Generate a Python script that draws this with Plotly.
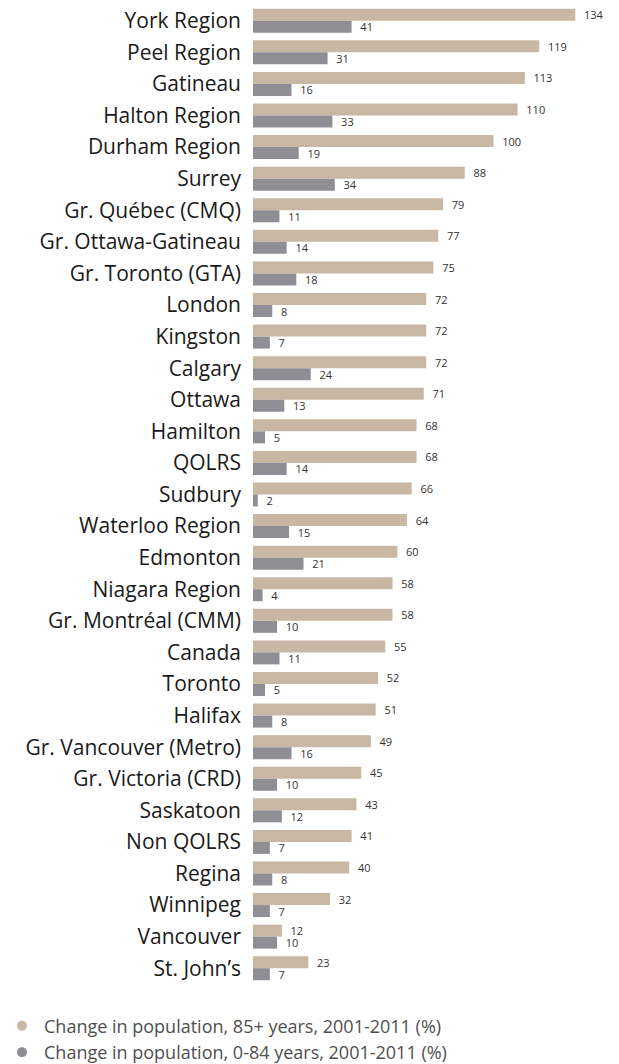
import plotly.graph_objects as go

categories = ["York Region", "Peel Region", "Gatineau", "Halton Region", "Durham Region", "Surrey",
              "Gr. Québec (CMQ)", "Gr. Ottawa-Gatineau", "Gr. Toronto (GTA)", "London", "Kingston",
              "Calgary", "Ottawa", "Hamilton", "QOLRS", "Sudbury", "Waterloo Region", "Edmonton",
              "Niagara Region", "Gr. Montréal (CMM)", "Canada", "Toronto", "Halifax",
              "Gr. Vancouver (Metro)", "Gr. Victoria (CRD)", "Saskatoon", "Non QOLRS", "Regina",
              "Winnipeg", "Vancouver", "St. John’s"]
pop_85_plus = [134, 119, 113, 110, 100, 88, 79, 77, 75, 72, 72, 72, 71, 68, 68, 66, 64, 60, 58, 58,
               55, 52, 51, 49, 45, 43, 41, 40, 32, 12, 23]
pop_0_84 = [41, 31, 16, 33, 19, 34, 11, 14, 18, 8, 7, 24, 13, 5, 14, 2, 15, 21, 4, 10, 11, 5, 8, 16,
            10, 12, 7, 8, 7, 10, 7]
series_names = ["Change in population, 85+ years, 2001-2011 (%)",
                "Change in population, 0-84 years, 2001-2011 (%)"]

BEIGE = "#c8b7a3"
GRAY = "#8f8e94"
FONT = "Open Sans"

fig = go.Figure()
for vals, color in [(pop_85_plus, BEIGE), (pop_0_84, GRAY)]:
    fig.add_trace(go.Bar(
        y=categories, x=vals, orientation="h", marker=dict(color=color, line=dict(width=0)),
        text=[f"  {v}" for v in vals], textposition="outside", cliponaxis=False,
        textfont=dict(family=FONT, size=11, color="#333333"), showlegend=False,
    ))
# legend-only markers on a hidden overlay axis
for name, color in zip(series_names, [BEIGE, GRAY]):
    fig.add_trace(go.Scatter(x=[0], y=[0], xaxis="x2", yaxis="y2", mode="markers", name=name,
                             marker=dict(symbol="circle", size=10, color=color)))

fig.update_layout(
    width=619, height=1064,
    margin=dict(l=253, r=10, t=5, b=80, autoexpand=False),
    barmode="group", bargap=0.24, bargroupgap=0,
    plot_bgcolor="white", paper_bgcolor="white",
    xaxis=dict(range=[0, 148], visible=False, showgrid=False, zeroline=False),
    yaxis=dict(autorange="reversed", showgrid=False, zeroline=False, showline=False,
               ticks="", ticklabelstandoff=11, automargin=False,
               tickfont=dict(family=FONT, size=21, color="#1a1a1a")),
    xaxis2=dict(overlaying="x", range=[1, 2], visible=False),
    yaxis2=dict(overlaying="y", range=[1, 2], visible=False),
    legend=dict(xref="container", yref="container", x=0.0, y=0.053, xanchor="left", yanchor="top",
                font=dict(family=FONT, size=18, color="#4f4f4f"), itemwidth=34,
                tracegroupgap=0, bgcolor="rgba(0,0,0,0)"),
    uniformtext=dict(minsize=11, mode="show"),
)

fig.write_html("out.html", config={"displayModeBar": False},
               post_script="document.body.style.margin='0px';")
